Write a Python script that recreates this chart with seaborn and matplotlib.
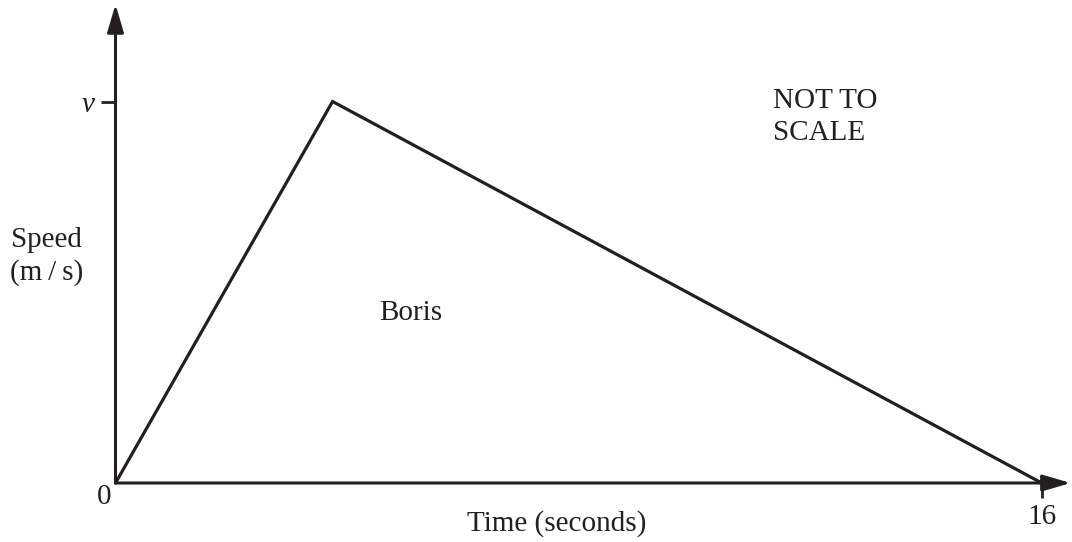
import matplotlib
matplotlib.use("Agg")
import matplotlib.pyplot as plt
import seaborn as sns
import pandas as pd

# Data
time_s = [0, 3.75, 16]
speed = [0, 1, 0]          # in units of v
x_tick_vals = [16]
x_tick_labels = ["16"]
y_tick_vals = [1]
y_tick_labels = ["v"]

sns.set_theme(style="white")
plt.rcParams['font.family'] = ['Liberation Serif', 'DejaVu Serif']

FS = 21
W, H = 1072, 542
fig = plt.figure(figsize=(W / 100, H / 100), dpi=100)
ox, oy = 115.5, 483.0     # origin pixel
x16 = 1041.7
ytop = 101.5
ax = fig.add_axes([ox / W, (H - oy) / H, (x16 - ox) / W, (oy - ytop) / H])
ax.set_xlim(0, 16)
ax.set_ylim(0, 1)
for s in ax.spines.values():
    s.set_visible(False)

df = pd.DataFrame({"t": time_s, "s": speed})
sns.lineplot(data=df, x="t", y="s", ax=ax, color="#231f20", lw=2.3,
             sort=False, clip_on=False, solid_joinstyle="miter")

col = "#231f20"
# axes with arrows
ax.annotate("", xy=(16.5, 0), xytext=(0, 0), xycoords="data",
            arrowprops=dict(arrowstyle="-|>,head_length=0.85,head_width=0.25",
                            mutation_scale=20, color=col, lw=2.2,
                            shrinkA=0, shrinkB=0), annotation_clip=False)
ax.annotate("", xy=(0, 1.255), xytext=(0, 0), xycoords="data",
            arrowprops=dict(arrowstyle="-|>,head_length=0.85,head_width=0.25",
                            mutation_scale=20, color=col, lw=2.2,
                            shrinkA=0, shrinkB=0), annotation_clip=False)

ax.set_xticks(x_tick_vals)
ax.set_xticklabels(x_tick_labels, fontsize=FS, color=col)
ax.set_yticks(y_tick_vals)
ax.set_yticklabels(y_tick_labels, fontsize=FS, color=col, style="italic")
ax.tick_params(axis="both", direction="out", length=11, width=2.0, color=col,
               pad=4, bottom=True, left=True)
ax.set_xlabel("")
ax.set_ylabel("")

def ptext(px, py, s, **kw):
    fig.text(px / W, 1 - py / H, s, fontsize=FS, color=col, **kw)

ptext(104, 497, "0", ha="center", va="center")
ptext(11, 240, "Speed", ha="left", va="center")
ptext(10, 273, "(m\u2009/\u2009s)", ha="left", va="center")
ptext(773, 101, "NOT TO", ha="left", va="center")
ptext(773, 133, "SCALE", ha="left", va="center")
ptext(379, 313, "Boris", ha="left", va="center")
ptext(557, 524, "Time (seconds)", ha="center", va="center")

fig.savefig("out.png", dpi=100)
